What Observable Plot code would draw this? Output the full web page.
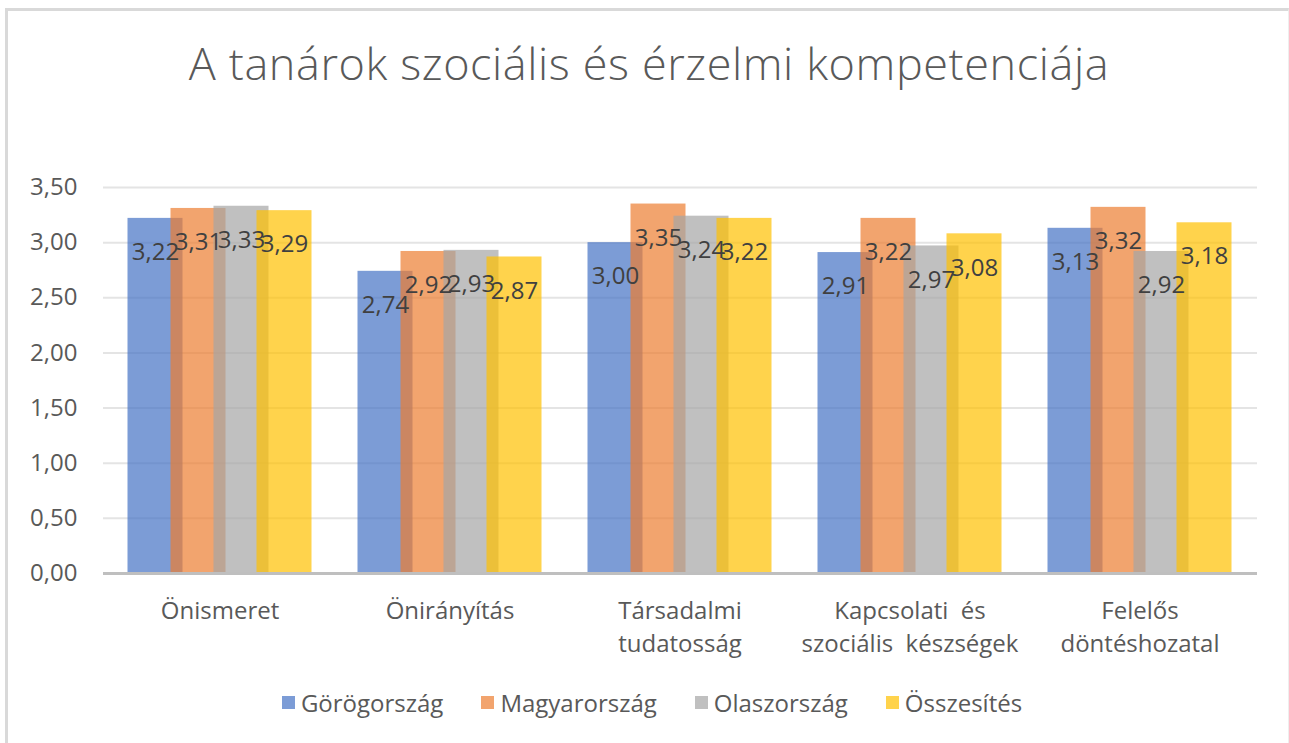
<!DOCTYPE html>
<html>
<head>
<meta charset="utf-8">
<script src="https://cdn.jsdelivr.net/npm/d3@7"></script>
<script src="https://cdn.jsdelivr.net/npm/@observablehq/plot@0.6"></script>
<style>
  html, body { margin: 0; padding: 0; background: #fff; width: 1289px; height: 743px; overflow: hidden; }
  body { font-family: "Open Sans", sans-serif; position: relative; }
  #frame { position: absolute; left: 5px; top: 8px; width: 1280px; height: 760px; border-top: 3px solid #d9d9d9; border-left: 3px solid #d9d9d9; border-right: 1px solid #eeeeee; }
  #title { position: absolute; top: 32px; left: 0; width: 1298px; text-align: center; font-size: 45px; font-weight: 300; color: #595959; letter-spacing: 0.6px; white-space: nowrap; }
  #chart { position: absolute; left: 0; top: 150px; }
  #legend { position: absolute; top: 686px; left: 0; width: 1304px; display: flex; justify-content: center; gap: 38px; font-size: 24px; color: #595959; }
  .item { display: flex; align-items: center; gap: 6px; }
  .sw { width: 13px; height: 13px; display: inline-block; }
</style>
</head>
<body>
<div id="frame"></div>
<div id="title">A tanárok szociális és érzelmi kompetenciája</div>
<div id="chart"></div>
<div id="legend"></div>
<script>
const categories = ["Önismeret", "Önirányítás", "Társadalmi tudatosság", "Kapcsolati és szociális készségek", "Felelős döntéshozatal"];
const categoryLabels = ["Önismeret", "Önirányítás", "Társadalmi\ntudatosság", "Kapcsolati  és\nszociális  készségek", "Felelős\ndöntéshozatal"];
const seriesNames = ["Görögország", "Magyarország", "Olaszország", "Összesítés"];
const greece = [3.22, 2.74, 3.00, 2.91, 3.13];
const hungary = [3.31, 2.92, 3.35, 3.22, 3.32];
const italy = [3.33, 2.93, 3.24, 2.97, 2.92];
const total = [3.29, 2.87, 3.22, 3.08, 3.18];
const seriesValues = [greece, hungary, italy, total];
const colors = ["#4472C4", "#ED7D31", "#A5A5A5", "#FFC000"];
const yTicks = [0, 0.5, 1, 1.5, 2, 2.5, 3, 3.5];

const fmt = v => v.toFixed(2).replace(".", ",");
const labelOf = new Map(categories.map((c, i) => [c, categoryLabels[i]]));

const W = 1289, H = 520, ML = 103, MR = 32, MT = 37, MB = 97;
const padInner = 0.2548, padOuter = padInner / 2;
const step = (W - ML - MR) / categories.length;
const bw = step * (1 - padInner);
const nS = seriesNames.length;
const shift = bw / nS;           // offset between consecutive series bars
const barW = 56;                 // visual bar width (bars overlap)
const extra = (barW - shift) / 2;

const marks = [
  Plot.gridY(yTicks, {stroke: "#e4e4e4", strokeOpacity: 1, strokeWidth: 2}),
];
seriesValues.forEach((vals, i) => {
  const data = categories.map((c, j) => ({c, v: vals[j]}));
  marks.push(Plot.barY(data, {
    x: "c", y: "v", fill: colors[i], fillOpacity: 0.7,
    insetLeft: i * shift - extra,
    insetRight: bw - (i * shift - extra + barW)
  }));
});
marks.push(Plot.ruleY([0], {stroke: "#bfbfbf", strokeWidth: 3}));
seriesValues.forEach((vals, i) => {
  const data = categories.map((c, j) => ({c, v: vals[j]}));
  marks.push(Plot.text(data, {
    x: "c", y: "v", text: d => fmt(d.v),
    dx: (i - (nS - 1) / 2) * shift, dy: 34,
    fill: "#404040", fontSize: 24
  }));
});
marks.push(Plot.axisY(yTicks, {tickSize: 0, tickPadding: 26, tickFormat: fmt, fontSize: 24, color: "#595959", label: null}));
marks.push(Plot.axisX({tickSize: 0, tickPadding: 22, tickFormat: c => labelOf.get(c), fontSize: 24, lineHeight: 1.38, color: "#595959", label: null}));

const chart = Plot.plot({
  width: W, height: H,
  marginLeft: ML, marginRight: MR, marginTop: MT, marginBottom: MB,
  style: {fontFamily: "Open Sans, sans-serif", fontSize: "24px", background: "transparent", overflow: "visible"},
  x: {domain: categories, paddingInner: padInner, paddingOuter: padOuter, label: null},
  y: {domain: [0, 3.5], label: null},
  marks
});
document.getElementById("chart").appendChild(chart);

const legend = document.getElementById("legend");
seriesNames.forEach((name, i) => {
  const item = document.createElement("div");
  item.className = "item";
  const sw = document.createElement("span");
  sw.className = "sw";
  sw.style.background = colors[i];
  sw.style.opacity = 0.7;
  const t = document.createElement("span");
  t.textContent = name;
  item.appendChild(sw);
  item.appendChild(t);
  legend.appendChild(item);
});
</script>
</body>
</html>
